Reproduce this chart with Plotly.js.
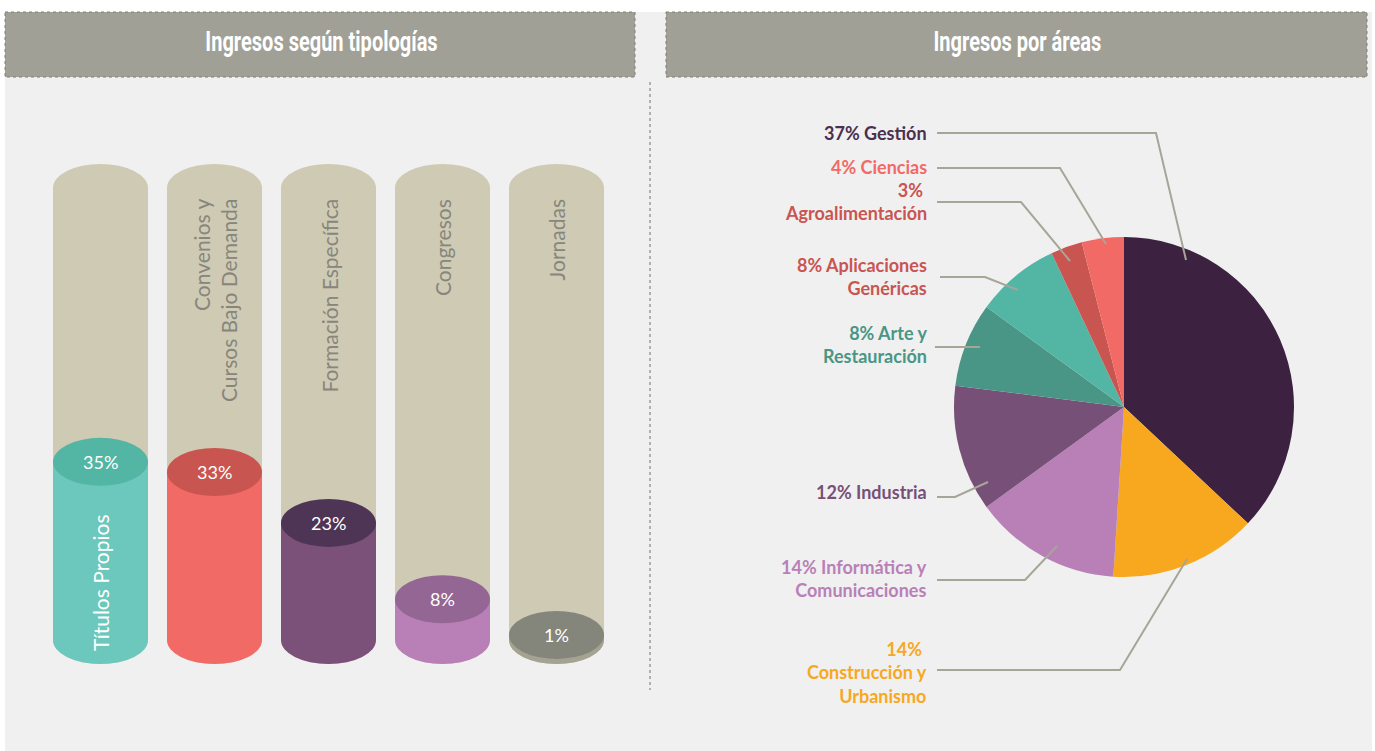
<!DOCTYPE html>
<html>
<head>
<meta charset="utf-8">
<script src="https://cdn.plot.ly/plotly-3.0.1.min.js"></script>
<style>html,body{margin:0;padding:0;background:#fff;}#chart{width:1375px;height:751px;}</style>
</head>
<body>
<div id="chart"></div>
<script>
// ---------- DATA ----------
const typologyTitle = 'Ingresos según tipologías';
const typologyNames = ['Títulos Propios', 'Convenios y<br>Cursos Bajo Demanda', 'Formación Específica', 'Congresos', 'Jornadas'];
const typologyValues = [35, 33, 23, 8, 1];

const areaTitle = 'Ingresos por áreas';
const areaNames = ['Gestión', 'Construcción y Urbanismo', 'Informática y Comunicaciones', 'Industria', 'Arte y Restauración', 'Aplicaciones Genéricas', 'Agroalimentación', 'Ciencias'];
const areaValues = [37, 14, 14, 12, 8, 8, 3, 4];
const areaLabelText = ['37% Gestión', '14%&nbsp;<br>Construcción y<br>Urbanismo', '14% Informática y<br>Comunicaciones', '12% Industria', '8% Arte y<br>Restauración', '8% Aplicaciones<br>Genéricas', '3%&nbsp;<br>Agroalimentación', '4% Ciencias'];

// ---------- STYLE ----------
const W = 1375, H = 751;
const px = x => x / W;
const py = y => 1 - y / H;

const bodyColors = ['#6cc7bc', '#f26a66', '#7b5079', '#b880b7', '#a4a392'];
const topColors  = ['#53b6a5', '#c95550', '#4e3555', '#946694', '#84857b'];
const trackColor = '#cfcab3';
const areaColors = ['#3c2240', '#f7a81e', '#b880b7', '#775077', '#4a9686', '#53b6a5', '#c95550', '#f26a66'];
const areaTextColors = ['#4b2f4f', '#f7a81e', '#b880b7', '#775077', '#4a9686', '#c95550', '#c95550', '#f26a66'];

// left axis pixel geometry
const X0PX = 100.5, XSTEP = 114, BASEPX = 640, SCALE = 5.09; // px per percentage point
const BARW = 95 / XSTEP;
const RY = 24 / SCALE;
const TRACK = (BASEPX - 188) / SCALE;
const xRange = [-X0PX / XSTEP, (650 - X0PX) / XSTEP];
const yRange = [-(H - BASEPX) / SCALE, BASEPX / SCALE];

const xs = typologyValues.map((_, i) => i);

const shapes = [];
// panel background
shapes.push({type: 'rect', xref: 'paper', yref: 'paper', x0: px(5), x1: px(1372), y0: py(12), y1: py(H), fillcolor: '#f0f0f0', line: {width: 0}, layer: 'below'});
// headers
[[5, 635], [666, 1367]].forEach(([a, b]) => {
  shapes.push({type: 'rect', xref: 'paper', yref: 'paper', x0: px(a), x1: px(b), y0: py(12), y1: py(77), fillcolor: '#a1a097', line: {color: '#807f77', width: 1, dash: 'dot'}, layer: 'below'});
});
// separator
shapes.push({type: 'line', xref: 'paper', yref: 'paper', x0: px(650), x1: px(650), y0: py(82), y1: py(690), line: {color: '#9c9b92', width: 1.5, dash: 'dot'}, layer: 'below'});

// tracks
xs.forEach(i => {
  shapes.push({type: 'rect', xref: 'x', yref: 'y', x0: i - BARW / 2, x1: i + BARW / 2, y0: 0, y1: TRACK, fillcolor: trackColor, line: {width: 0}, layer: 'below'});
  shapes.push({type: 'circle', xref: 'x', yref: 'y', x0: i - BARW / 2, x1: i + BARW / 2, y0: TRACK - RY, y1: TRACK + RY, fillcolor: trackColor, line: {width: 0}, layer: 'below'});
  shapes.push({type: 'circle', xref: 'x', yref: 'y', x0: i - BARW / 2, x1: i + BARW / 2, y0: -RY, y1: RY, fillcolor: trackColor, line: {width: 0}, layer: 'below'});
});
// cylinder caps
typologyValues.forEach((v, i) => {
  shapes.push({type: 'circle', xref: 'x', yref: 'y', x0: i - BARW / 2, x1: i + BARW / 2, y0: -RY, y1: RY, fillcolor: bodyColors[i], line: {width: 0}, layer: 'above'});
  shapes.push({type: 'circle', xref: 'x', yref: 'y', x0: i - BARW / 2, x1: i + BARW / 2, y0: v - RY, y1: v + RY, fillcolor: topColors[i], line: {width: 0}, layer: 'above'});
});

// leader lines for pie labels (pixel layout)
const leaders = [
  [[937, 133], [1156, 133], [1186, 260]],
  [[937, 670], [1120, 670], [1187, 559]],
  [[937, 580], [1025, 580], [1057, 546]],
  [[937, 497], [955, 497], [988, 482]],
  [[935, 347], [980, 347]],
  [[940, 277], [985, 277], [1018, 290]],
  [[937, 202], [1021, 202], [1070, 261]],
  [[937, 168], [1060, 168], [1106, 244]]
];
leaders.forEach(pts => {
  const path = pts.map((p, k) => (k ? 'L' : 'M') + px(p[0]) + ',' + py(p[1])).join(' ');
  shapes.push({type: 'path', xref: 'paper', yref: 'paper', path: path, line: {color: '#a6a598', width: 2}, layer: 'above'});
});

const annotations = [];
const headerFont = {family: 'Roboto, DejaVu Sans, sans-serif', size: 28, color: '#ffffff', weight: 700};
annotations.push({xref: 'paper', yref: 'paper', x: px(321), y: py(42), text: typologyTitle, showarrow: false, xanchor: 'center', yanchor: 'middle', font: headerFont});
annotations.push({xref: 'paper', yref: 'paper', x: px(1017), y: py(42), text: areaTitle, showarrow: false, xanchor: 'center', yanchor: 'middle', font: headerFont});

// percentage labels on caps
typologyValues.forEach((v, i) => {
  annotations.push({xref: 'x', yref: 'y', x: i, y: v, text: v + '%', showarrow: false, xanchor: 'center', yanchor: 'middle', font: {family: 'Lato, Open Sans, sans-serif', size: 18, color: '#ffffff'}});
});
// category labels (rotated)
typologyNames.forEach((name, i) => {
  if (i === 0) {
    annotations.push({xref: 'x', yref: 'paper', x: i, y: py(653), text: name, textangle: -90, showarrow: false, xanchor: 'center', yanchor: 'bottom', align: 'right', font: {family: 'Lato, Open Sans, sans-serif', size: 21, color: '#ffffff', weight: 400}});
  } else {
    annotations.push({xref: 'x', yref: 'paper', x: i, y: py(197), text: name, textangle: -90, showarrow: false, xanchor: 'center', yanchor: 'top', align: 'right', font: {family: 'Lato, Open Sans, sans-serif', size: 21, color: '#86867c', weight: 400}});
  }
});
// pie labels
const labelCenters = [133, 672, 578, 492, 344, 276.5, 201.5, 167];
areaLabelText.forEach((t, k) => {
  annotations.push({xref: 'paper', yref: 'paper', x: px(929), y: py(labelCenters[k]), text: t, showarrow: false, xanchor: 'right', yanchor: 'middle', align: 'right', font: {family: 'Lato, Open Sans, sans-serif', size: 18, color: areaTextColors[k], weight: 700}});
});

const traces = [
  {type: 'bar', x: xs, y: typologyValues, base: 0, width: BARW, marker: {color: bodyColors, line: {width: 0}}, hoverinfo: 'skip', showlegend: false, xaxis: 'x', yaxis: 'y'},
  {type: 'pie', labels: areaNames, values: areaValues, sort: false, direction: 'clockwise', rotation: 0,
   marker: {colors: areaColors, line: {width: 0}}, textinfo: 'none', hoverinfo: 'label+percent', showlegend: false,
   domain: {x: [px(954), px(1294)], y: [py(577), py(237)]}}
];

const layout = {
  width: W, height: H,
  margin: {l: 0, r: 0, t: 0, b: 0, pad: 0},
  paper_bgcolor: '#ffffff', plot_bgcolor: 'rgba(0,0,0,0)',
  showlegend: false,
  xaxis: {domain: [0, px(650)], range: xRange, visible: false, fixedrange: true},
  yaxis: {domain: [0, 1], range: yRange, visible: false, fixedrange: true},
  shapes: shapes,
  annotations: annotations
};

// condensed look for the header titles (no condensed face installed)
const HEADER_SQUEEZE = 0.715;
Plotly.newPlot('chart', traces, layout, {displayModeBar: false, staticPlot: true}).then(gd => {
  [0, 1].forEach(idx => {
    const g = gd.querySelector('.annotation[data-index="' + idx + '"] text.annotation-text');
    if (!g) return;
    const bb = g.getBBox();
    const cx = bb.x + bb.width / 2;
    g.setAttribute('transform', 'translate(' + cx + ',0) scale(' + HEADER_SQUEEZE + ',1) translate(' + (-cx) + ',0)');
  });
});
</script>
</body>
</html>
